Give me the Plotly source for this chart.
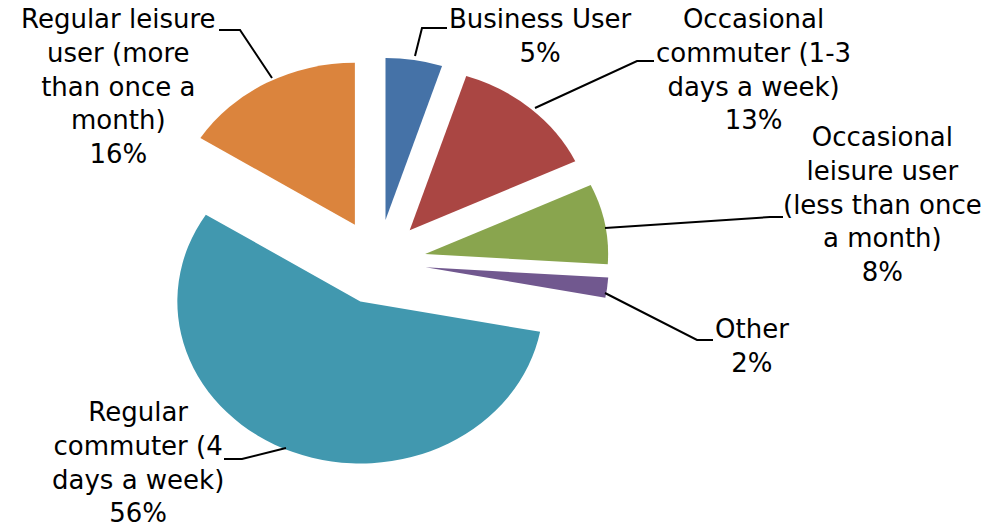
import plotly.graph_objects as go

# Survey of user types (share of respondents, %)
categories = [
    "Business User",
    "Occasional commuter (1-3 days a week)",
    "Occasional leisure user (less than once a month)",
    "Other",
    "Regular commuter (4 days a week)",
    "Regular leisure user (more than once a month)",
]
shares = [5, 13, 8, 2, 56, 16]
label_lines = [
    ["Business User"],
    ["Occasional", "commuter (1-3", "days a week)"],
    ["Occasional", "leisure user", "(less than once", "a month)"],
    ["Other"],
    ["Regular", "commuter (4", "days a week)"],
    ["Regular leisure", "user (more", "than once a", "month)"],
]
colors = ["#4572A7", "#AA4643", "#89A54E", "#71588F", "#4198AF", "#DB843D"]

W, H = 995, 531

# pie geometry in pixels: centre, radius, explode fraction, aspect stretch
CX, CY, R, PULL = 378, 262, 172, 0.262
SX, SY = 183 / R, 162 / R
HALF = R * (1 + PULL)


def px(x):
    return x / W


def py(y):
    return 1 - y / H


fig = go.Figure(
    go.Pie(
        labels=categories,
        values=shares,
        sort=False,
        direction="clockwise",
        rotation=0,
        pull=[PULL] * len(shares),
        marker=dict(colors=colors, line=dict(width=0)),
        textinfo="none",
        hoverinfo="label+percent",
        showlegend=False,
        domain=dict(x=[px(CX - HALF), px(CX + HALF)],
                    y=[py(CY + HALF), py(CY - HALF)]),
    )
)

# label block centres (pixels) and leader-line paths (pixels)
label_pos = [(540, 36), (753, 69), (882, 204), (752, 346), (138, 462), (118, 86)]
leaders = [
    [(447, 28), (422, 28), (415, 56)],
    [(654, 61), (637, 61), (535, 108)],
    [(783, 217), (770, 217), (605, 228)],
    [(713, 340), (697, 340), (605, 293)],
    [(224, 459), (242, 459), (286, 448)],
    [(219, 30), (240, 30), (272, 78)],
]

total = sum(shares)
for lines, v, (cx, cy) in zip(label_lines, shares, label_pos):
    pct = f"{round(100 * v / total)}%"
    fig.add_annotation(
        x=px(cx), y=py(cy), xref="paper", yref="paper",
        text="<br>".join(lines + [pct]),
        showarrow=False, align="center",
        xanchor="center", yanchor="middle",
        font=dict(family="DejaVu Sans", size=26, color="#000000"),
    )

for path in leaders:
    d = "M " + " L ".join(f"{px(x)},{py(y)}" for x, y in path)
    fig.add_shape(type="path", path=d, xref="paper", yref="paper",
                  line=dict(color="#000000", width=2))

fig.update_layout(
    width=W, height=H,
    margin=dict(l=0, r=0, t=0, b=0),
    paper_bgcolor="#FFFFFF",
    plot_bgcolor="#FFFFFF",
)

# widen the pie into an ellipse about its centre
stretch_js = (
    "var gd = document.getElementsByClassName('plotly-graph-div')[0];"
    "var layer = gd.querySelector('.pielayer');"
    f"if (layer) layer.setAttribute('transform', 'translate({CX},{CY}) "
    f"scale({SX:.4f},{SY:.4f}) translate({-CX},{-CY})');"
)

fig.write_html("out.html", post_script=stretch_js)
